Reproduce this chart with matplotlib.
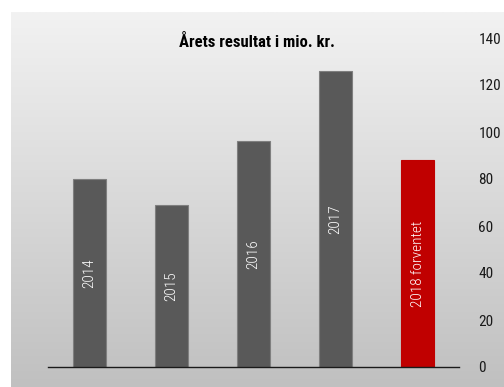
import matplotlib
matplotlib.use("Agg")
import matplotlib.pyplot as plt
import numpy as np
from matplotlib.colors import LinearSegmentedColormap

# Annual result (mDKK)
categories = ["2014", "2015", "2016", "2017", "2018 forventet"]
values = [80, 69, 96, 126, 88]
bar_colors = ["#595959", "#595959", "#595959", "#595959", "#c00000"]
yticks = [0, 20, 40, 60, 80, 100, 120, 140]
title = "Årets resultat i mio. kr."

FONT = ["Roboto Condensed", "Liberation Sans Narrow", "DejaVu Sans"]
plt.rcParams["font.family"] = FONT
plt.rcParams["font.stretch"] = "condensed"

W, H = 504, 387
fig = plt.figure(figsize=(W / 100, H / 100), dpi=100)
fig.patch.set_facecolor("white")

# vertical gradient panel behind the chart
bg = fig.add_axes([11 / W, 0, 1 - 11 / W, 1 - 12 / H], zorder=0)
grad = LinearSegmentedColormap.from_list("bg", ["#c0c0c0", "#f2f2f2"])
bg.imshow(np.linspace(0, 1, 256).reshape(-1, 1), aspect="auto", cmap=grad,
          origin="lower", extent=[0, 1, 0, 1])
bg.set_axis_off()

ax = fig.add_axes([48 / W, 20 / H, 411 / W, 329 / H], zorder=1)
ax.patch.set_alpha(0)
x = np.arange(len(categories))
bars = ax.bar(x, values, width=0.4, color=bar_colors,
              edgecolor=["#7f7f7f"] * 4 + ["#c00000"], linewidth=0.8)

for xi, v, lab in zip(x, values, categories):
    ax.text(xi, v / 2, lab, rotation=90, ha="center", va="center",
            color="white", fontsize=11, fontweight="light")

ax.set_xlim(-0.5, 4.5)
ax.set_ylim(0, 140)
ax.set_xticks([])
ax.yaxis.tick_right()
ax.set_yticks(yticks)
ax.set_yticklabels([str(t) for t in yticks])
ax.tick_params(axis="y", length=0, pad=14, labelsize=11, labelcolor="#1a1a1a")
for s in ["top", "left", "right"]:
    ax.spines[s].set_visible(False)
ax.spines["bottom"].set_color("#1a1a1a")
ax.spines["bottom"].set_linewidth(1.0)

fig.text(257 / W, 1 - 42 / H, title, ha="center", va="center",
         fontsize=12, fontweight="bold", color="black")

fig.savefig("out.png", dpi=100)
